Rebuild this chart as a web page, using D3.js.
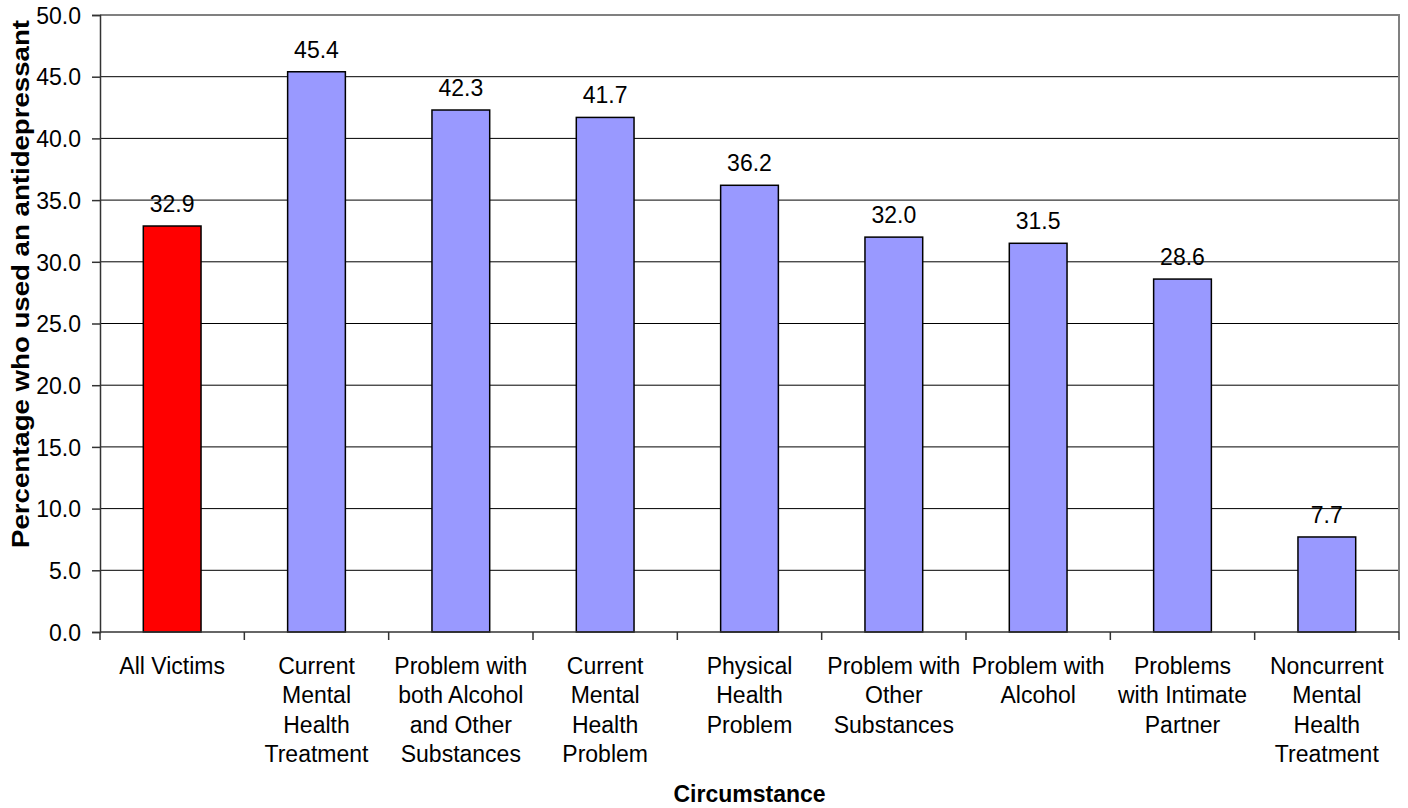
<!DOCTYPE html>
<html>
<head>
<meta charset="utf-8">
<script src="https://cdn.jsdelivr.net/npm/d3@7"></script>
<style>
  html, body { margin: 0; padding: 0; background: #fff; }
  svg { display: block; }
  text { font-family: Arial, "Liberation Sans", sans-serif; fill: #000; }
</style>
</head>
<body>
<svg id="chart" width="1408" height="808"></svg>
<script>
// Circumstances (label lines) and percentage who used an antidepressant
const categories = [
  ["All Victims"],
  ["Current", "Mental", "Health", "Treatment"],
  ["Problem with", "both Alcohol", "and Other", "Substances"],
  ["Current", "Mental", "Health", "Problem"],
  ["Physical", "Health", "Problem"],
  ["Problem with", "Other", "Substances"],
  ["Problem with", "Alcohol"],
  ["Problems", "with Intimate", "Partner"],
  ["Noncurrent", "Mental", "Health", "Treatment"]
];
const values = [32.9, 45.4, 42.3, 41.7, 36.2, 32.0, 31.5, 28.6, 7.7];
const highlight = [true, false, false, false, false, false, false, false, false];
const yTicks = [0, 5, 10, 15, 20, 25, 30, 35, 40, 45, 50];
const xTitle = "Circumstance";
const yTitle = "Percentage who used an antidepressant";

const svg = d3.select("#chart");
const plot = { left: 100, right: 1399, top: 15, bottom: 632 };

const x = d3.scaleBand()
  .domain(d3.range(categories.length))
  .range([plot.left, plot.right])
  .padding(0);
const y = d3.scaleLinear().domain([0, 50]).range([plot.bottom, plot.top]);
const barW = x.bandwidth() * 0.4;

// horizontal gridlines
svg.append("g")
  .selectAll("line")
  .data(yTicks.filter(t => t > 0 && t < 50))
  .join("line")
  .attr("x1", plot.left).attr("x2", plot.right)
  .attr("y1", d => y(d)).attr("y2", d => y(d))
  .attr("stroke", "#000").attr("stroke-width", 1);

// plot-area border (top and right)
svg.append("path")
  .attr("d", `M${plot.left},${y(50)}H${plot.right}V${plot.bottom}`)
  .attr("fill", "none").attr("stroke", "#808080").attr("stroke-width", 2);

// bars
svg.append("g")
  .selectAll("rect")
  .data(values)
  .join("rect")
  .attr("x", (d, i) => x(i) + (x.bandwidth() - barW) / 2)
  .attr("y", d => y(d))
  .attr("width", barW)
  .attr("height", d => y(0) - y(d))
  .attr("fill", (d, i) => highlight[i] ? "#FF0000" : "#9999FF")
  .attr("stroke", "#000").attr("stroke-width", 1.5);

// value labels
svg.append("g")
  .selectAll("text")
  .data(values)
  .join("text")
  .attr("x", (d, i) => x(i) + x.bandwidth() / 2)
  .attr("y", d => y(d) - 14)
  .attr("text-anchor", "middle")
  .style("font-size", "23px")
  .text(d => d.toFixed(1));

// y axis
const yAxis = svg.append("g")
  .attr("transform", `translate(${plot.left},0)`)
  .call(d3.axisLeft(y).tickValues(yTicks).tickFormat(d => d.toFixed(1)).tickSize(8).tickPadding(11));
yAxis.select(".domain").attr("stroke", "#333").attr("stroke-width", 1.5);
yAxis.selectAll(".tick line").attr("stroke", "#333").attr("stroke-width", 1.5);
yAxis.selectAll(".tick text")
  .style("font-size", "23px")
  .style("font-family", "Arial, 'Liberation Sans', sans-serif")
  .attr("fill", "#000")
  .attr("dy", "0.36em");

// x axis: baseline with ticks at category boundaries
const xAxisG = svg.append("g");
xAxisG.append("line")
  .attr("x1", plot.left).attr("x2", plot.right)
  .attr("y1", y(0)).attr("y2", y(0))
  .attr("stroke", "#333").attr("stroke-width", 1.5);
xAxisG.selectAll("line.tk")
  .data(d3.range(categories.length + 1))
  .join("line")
  .attr("class", "tk")
  .attr("x1", i => i < categories.length ? x(i) : plot.right)
  .attr("x2", i => i < categories.length ? x(i) : plot.right)
  .attr("y1", y(0)).attr("y2", y(0) + 8)
  .attr("stroke", "#333").attr("stroke-width", 1.5);

// category labels
const catLabels = svg.append("g")
  .selectAll("text")
  .data(categories)
  .join("text")
  .attr("x", (d, i) => x(i) + x.bandwidth() / 2)
  .attr("y", 674)
  .attr("text-anchor", "middle")
  .style("font-size", "23px");
catLabels.selectAll("tspan")
  .data(d => d)
  .join("tspan")
  .attr("x", function() { return this.parentNode.getAttribute("x"); })
  .attr("dy", (d, i) => i === 0 ? 0 : 29.3)
  .text(d => d);

// axis titles
svg.append("text")
  .attr("x", (plot.left + plot.right) / 2)
  .attr("y", 802)
  .attr("text-anchor", "middle")
  .style("font-size", "23px")
  .style("font-weight", "bold")
  .text(xTitle);

svg.append("text")
  .attr("transform", "translate(29,284) rotate(-90)")
  .attr("text-anchor", "middle")
  .style("font-size", "23px")
  .style("font-weight", "bold")
  .attr("textLength", 528)
  .attr("lengthAdjust", "spacingAndGlyphs")
  .text(yTitle);
</script>
</body>
</html>
